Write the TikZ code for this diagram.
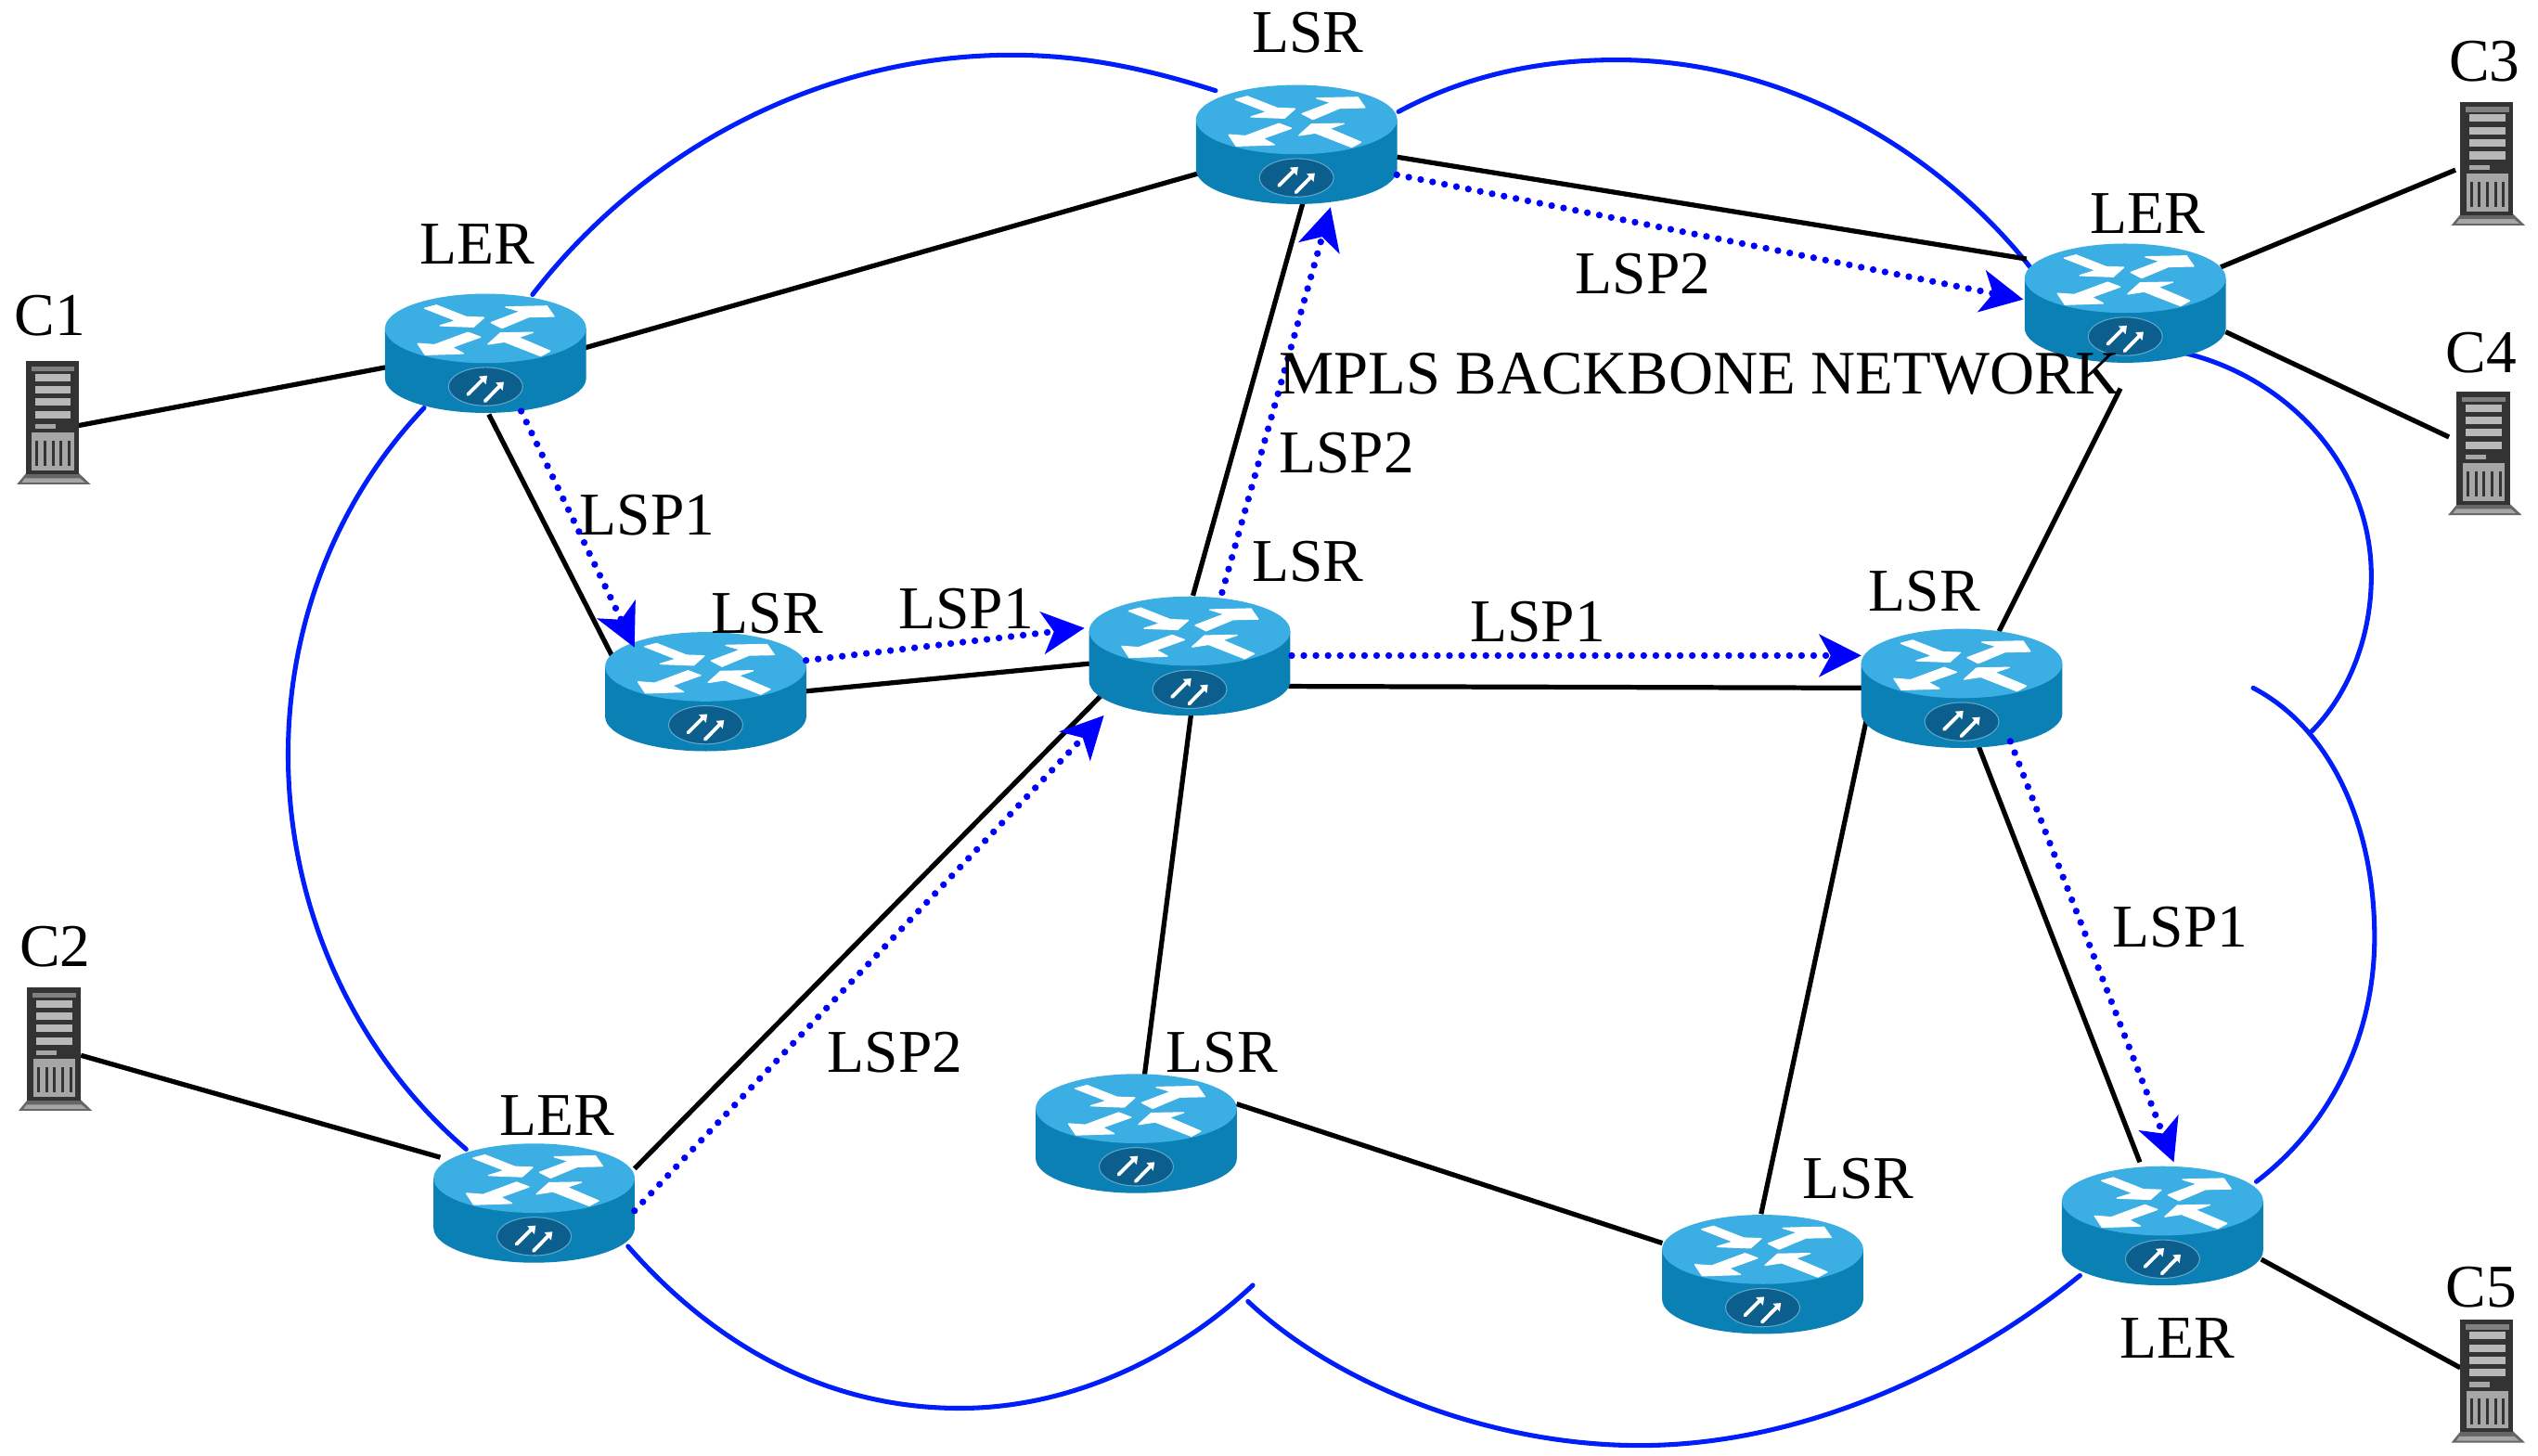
\documentclass[tikz,border=0pt]{standalone}
\usepackage{fontspec}
\setmainfont{Liberation Serif}
\usetikzlibrary{arrows.meta,calc}
\definecolor{rtop}{HTML}{3BAEE3}
\definecolor{rside}{HTML}{0A80B5}
\definecolor{rbadge}{HTML}{0C5F8C}
\definecolor{rline}{HTML}{5FA8CC}
\definecolor{cloudblue}{HTML}{001EFA}
\tikzset{
  routernode/.style={rectangle,minimum width=62pt,minimum height=36pt,inner sep=0pt},
  servernode/.style={rectangle,minimum width=23pt,minimum height=38pt,inner sep=0pt},
  lbl/.style={font=\fontsize{18.76}{20}\selectfont,inner sep=0pt,text=black},
  link/.style={black,line width=1.5pt},
  lsp/.style={blue,line width=2.1pt,line cap=round,dash pattern=on 0pt off 3.75pt,-{Stealth[length=13pt,width=13pt,inset=3.5pt]}},
  cloud/.style={cloudblue,line width=1.45pt,line cap=round},
  wing/.style={fill=white,draw=white,line width=0.4pt,line join=round},
  routerpic/.pic={
    \begin{scope}[x=0.0956pt,y=-0.0956pt,shift={(-487,-376)}]
      \fill[rside] (162,297) -- (162,458) arc[x radius=325,y radius=112,start angle=180,end angle=0] -- (812,297) -- cycle;
      \fill[rtop] (487,297) ellipse[x radius=325,y radius=112];
      \filldraw[fill=rbadge,draw=rline,line width=0.3pt] (487,485) ellipse[x radius=120,y radius=62];
      \path[wing] (290,232) -- (328,222) -- (425,260) -- (482,262) -- (448,292) -- (340,288) -- (392,272) -- cycle;
      \path[wing] (505,278) -- (600,242) -- (552,228) -- (685,225) -- (708,258) -- (612,260) -- (650,250) -- (540,296) -- cycle;
      \path[wing] (470,325) -- (378,358) -- (415,378) -- (292,382) -- (268,346) -- (322,350) -- (430,310) -- cycle;
      \path[wing] (495,348) -- (535,312) -- (640,310) -- (592,326) -- (695,370) -- (665,386) -- (548,340) -- cycle;
      \draw[white,line width=1.1pt,line cap=round] (430,510) -- (478,462);
      \draw[white,line width=1.1pt,line cap=round] (485,532) -- (532,484);
      \fill[white] (465,452) -- (492,450) -- (488,478) -- cycle;
      \fill[white] (520,472) -- (546,470) -- (542,498) -- cycle;
    \end{scope}},
  serverpic/.pic={
    \begin{scope}[x=0.0956pt,y=-0.0956pt,shift={(-170,-470)}]
      \fill[black!60] (85,630) -- (248,630) -- (290,670) -- (52,670) -- cycle;
      \fill[black!80] (80,272) rectangle (252,636);
      \fill[black!50] (98,288) rectangle (238,304);
      \foreach \yy in {312,352,392,432}{\fill[black!28] (110,\yy) rectangle (226,\yy+24);}
      \fill[black!35] (110,474) rectangle (176,490);
      \fill[black!35] (100,502) rectangle (236,624);
      \foreach \xx in {112,138,164,190,216}{\fill[black!80] (\xx,528) rectangle (\xx+9,610);}
      \fill[black!35] (78,650) -- (255,650) -- (272,664) -- (68,664) -- cycle;
    \end{scope}}
}
\begin{document}
\begin{tikzpicture}[x=0.5pt,y=-0.5pt]
\useasboundingbox (0,0) rectangle (1568,899.5);
% routers and servers (placeholders for the connectors)
\node[routernode] (ler1) at (300,218) {};
\node[routernode] (top) at (801,89) {};
\node[routernode] (lerr) at (1313,187) {};
\node[routernode] (lsrl) at (436,427) {};
\node[routernode] (cen) at (735,405) {};
\node[routernode] (lsrr) at (1212,425) {};
\node[routernode] (lerbl) at (330,743) {};
\node[routernode] (lsrb) at (702,700) {};
\node[routernode] (lsrbr) at (1089,787) {};
\node[routernode] (lerbr) at (1336,757) {};
\node[servernode] (c1) at (33,261) {};
\node[servernode] (c2) at (34,648) {};
\node[servernode] (c3) at (1537,101) {};
\node[servernode] (c4) at (1535,280) {};
\node[servernode] (c5) at (1537,853) {};
% cloud outline
\draw[cloud] (329,182) .. controls (400,90) and (510,34) .. (625,34) .. controls (670,34) and (710,43) .. (751,56);
\draw[cloud] (864,69) .. controls (905,47) and (950,37) .. (999,37) .. controls (1100,37) and (1195,90) .. (1255,166);
\draw[cloud] (1349,218) .. controls (1410,232) and (1465,285) .. (1465,356) .. controls (1465,395) and (1450,430) .. (1428,452);
\draw[cloud] (1392,425) .. controls (1440,450) and (1467,510) .. (1467,579) .. controls (1467,640) and (1440,695) .. (1394,730);
\draw[cloud] (771,804) .. controls (825,855) and (920,893) .. (1013,893) .. controls (1115,893) and (1215,845) .. (1285,788);
\draw[cloud] (388,770) .. controls (445,835) and (515,870) .. (593,870) .. controls (660,870) and (725,840) .. (774,794);
\draw[cloud] (262,252) .. controls (205,312) and (178,390) .. (178,466) .. controls (178,560) and (218,650) .. (288,710);
% black links
\draw[link] ([shift={(15,2)}]c1.center) -- ([shift={(-62,9)}]ler1.center);
\draw[link] ([shift={(61,-3)}]ler1.center) -- ([shift={(-60,18)}]top.center);
\draw[link] ([shift={(2,38)}]ler1.center) -- ([shift={(-58,-22)}]lsrl.center);
\draw[link] ([shift={(62,0)}]lsrl.center) -- ([shift={(-62,5)}]cen.center);
\draw[link] ([shift={(2,-37)}]cen.center) -- ([shift={(4,36)}]top.center);
\draw[link] ([shift={(61,19)}]cen.center) -- ([shift={(-61,0)}]lsrr.center);
\draw[link] ([shift={(62,8)}]top.center) -- ([shift={(-61,-27)}]lerr.center);
\draw[link] ([shift={(-3,53)}]lerr.center) -- ([shift={(23,-35)}]lsrr.center);
\draw[link] ([shift={(59,-22)}]lerr.center) -- ([shift={(-20,4)}]c3.center);
\draw[link] ([shift={(62,18)}]lerr.center) -- ([shift={(-22,-10)}]c4.center);
\draw[link] ([shift={(1,35)}]cen.center) -- ([shift={(5,-35)}]lsrb.center);
\draw[link] ([shift={(62,-18)}]lsrb.center) -- ([shift={(-62,-19)}]lsrbr.center);
\draw[link] ([shift={(-59,20)}]lsrr.center) -- ([shift={(-1,-37)}]lsrbr.center);
\draw[link] ([shift={(10,35)}]lsrr.center) -- ([shift={(-14,-39)}]lerbr.center);
\draw[link] ([shift={(62,-21)}]lerbl.center) -- ([shift={(-55,25)}]cen.center);
\draw[link] ([shift={(16,4)}]c2.center) -- ([shift={(-58,-28)}]lerbl.center);
\draw[link] ([shift={(61,21)}]lerbr.center) -- ([shift={(-17,-8)}]c5.center);
% icons
\foreach \n in {ler1,top,lerr,lsrl,cen,lsrr,lerbl,lsrb,lsrbr,lerbr}{\pic at (\n.center) {routerpic};}
\foreach \n in {c1,c2,c3,c4,c5}{\pic at (\n.center) {serverpic};}
% LSP arrows
\draw[lsp] ([shift={(22,36)}]ler1.center) -- ([shift={(-44,-27)}]lsrl.center);
\draw[lsp] ([shift={(62,-19)}]lsrl.center) -- ([shift={(-65,-17)}]cen.center);
\draw[lsp] ([shift={(20,-39)}]cen.center) -- ([shift={(21,39)}]top.center);
\draw[lsp] ([shift={(62,19)}]top.center) -- ([shift={(-63,-2)}]lerr.center);
\draw[lsp] ([shift={(63,0)}]cen.center) -- ([shift={(-62,-20)}]lsrr.center);
\draw[lsp] ([shift={(30,33)}]lsrr.center) -- ([shift={(7,-39)}]lerbr.center);
\draw[lsp] ([shift={(62,5)}]lerbl.center) -- ([shift={(-53,37)}]cen.center);
% labels
\node[lbl] (tc1) at (31,195) {C1};
\node[lbl] (tc2) at (34,585) {C2};
\node[lbl] (tc3) at (1535,38) {C3};
\node[lbl] (tc4) at (1533,218) {C4};
\node[lbl] (tc5) at (1533,795) {C5};
\node[lbl] (t1) at (295,151) {LER};
\node[lbl] (t2) at (808,20) {LSR};
\node[lbl] (t3) at (1327,132) {LER};
\node[lbl] (t4) at (474,379) {LSR};
\node[lbl] (t5) at (808,347) {LSR};
\node[lbl] (t6) at (1189,365) {LSR};
\node[lbl] (t7) at (344,689) {LER};
\node[lbl] (t8) at (755,650) {LSR};
\node[lbl] (t9) at (1148,728) {LSR};
\node[lbl] (t10) at (1345,827) {LER};
\node[lbl] (p1) at (400,318) {LSP1};
\node[lbl] (p2) at (597,376) {LSP1};
\node[lbl] (p3) at (950,384) {LSP1};
\node[lbl] (p4) at (1347,573) {LSP1};
\node[lbl] (p5) at (1015,169) {LSP2};
\node[lbl] (p6) at (832,280) {LSP2};
\node[lbl] (p7) at (553,650) {LSP2};
\node[lbl,font=\fontsize{19.1}{20}\selectfont] (mpls) at (1050,231) {MPLS BACKBONE NETWORK};
\end{tikzpicture}
\end{document}
